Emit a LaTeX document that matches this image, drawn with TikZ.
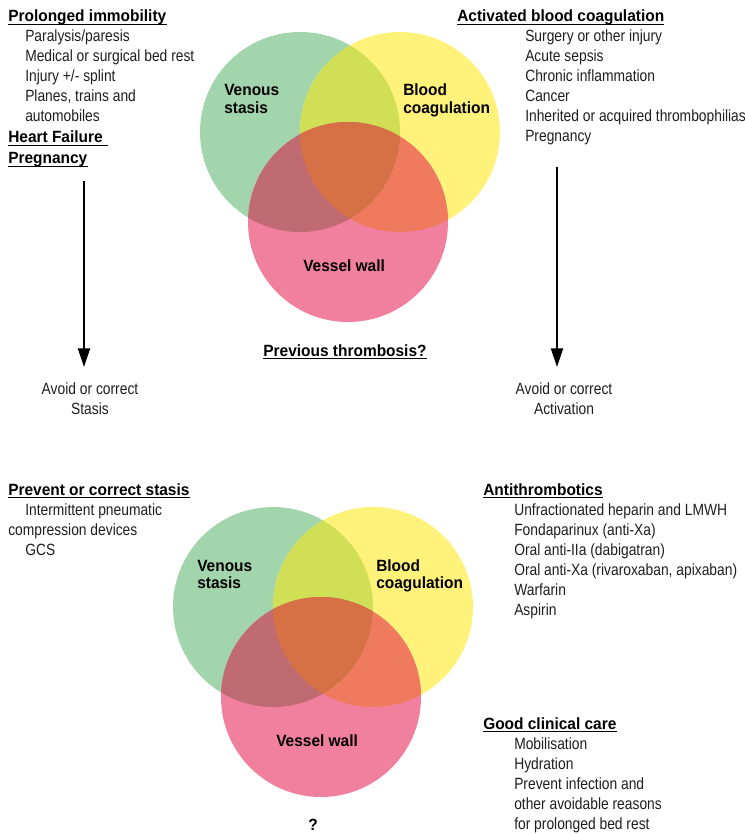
\documentclass[tikz,border=0pt]{standalone}
\usepackage{fontspec}
\setmainfont{Liberation Sans}[UprightFeatures={FakeStretch=0.85},BoldFeatures={FakeStretch=0.95}]
\usetikzlibrary{arrows.meta}
\definecolor{venGreen}{RGB}{163,213,172}
\definecolor{venYellow}{RGB}{255,242,122}
\definecolor{venPink}{RGB}{240,128,158}
\definecolor{gyMix}{RGB}{208,223,86}
\definecolor{gpMix}{RGB}{192,106,114}
\definecolor{ypMix}{RGB}{240,122,94}
\definecolor{allMix}{RGB}{214,112,69}
\definecolor{bodyText}{RGB}{30,30,30}

\tikzset{
  txt/.style={inner sep=0pt, anchor=base west, text=bodyText, font=\fontsize{12.2}{14}\selectfont},
  head/.style={inner sep=0pt, anchor=base west, font=\fontsize{12.2}{14}\selectfont\bfseries},
  uline/.style={line width=1.1pt},
  arr/.style={line width=1.6pt, -{Triangle[length=14pt,width=9pt]}}
}

\begin{document}
\begin{tikzpicture}[x=0.75pt,y=-0.75pt]
  \useasboundingbox (0,0) rectangle (744,834);

  % the two venn diagrams
  \foreach \dx/\dy/\p in {0/0/t,-27/475/b}
  {
    \begin{scope}[shift={(\dx,\dy)}]
      \coordinate (\p G) at (300,132);
      \coordinate (\p Y) at (400,132);
      \coordinate (\p P) at (348,222);
      \fill[venGreen] (\p G) circle [radius=75pt];
      \fill[venYellow] (\p Y) circle [radius=75pt];
      \fill[venPink] (\p P) circle [radius=75pt];
      \begin{scope}
        \clip (\p Y) circle [radius=75pt];
        \fill[ypMix] (\p P) circle [radius=75pt];
      \end{scope}
      \begin{scope}
        \clip (\p G) circle [radius=75pt];
        \fill[gyMix] (\p Y) circle [radius=75pt];
        \fill[gpMix] (\p P) circle [radius=75pt];
        \clip (\p Y) circle [radius=75pt];
        \fill[allMix] (\p P) circle [radius=75pt];
      \end{scope}
      \node[head] (\p ven1) at (224,96) {Venous};
      \node[head] (\p ven2) at (224,113.5) {stasis};
      \node[head] (\p blo1) at (403,96) {Blood};
      \node[head] (\p blo2) at (403,113.5) {coagulation};
      \node[head] (\p ves) at (303,271.5) {Vessel wall};
    \end{scope}
  }

  % risk factors
  \node[head] (immob) at (8,22) {Prolonged immobility};
  \foreach \t [count=\i] in {Paralysis/paresis, Medical or surgical bed rest, Injury +/- splint, {Planes, trains and}, automobiles}
    \node[txt] (immob\i) at (25,{22+20*\i}) {\t};
  \node[head] (heart) at (8,143) {Heart Failure\kern4pt};
  \node[head] (preg) at (8,164) {Pregnancy};

  \node[head] (activ) at (457,22) {Activated blood coagulation};
  \foreach \t [count=\i] in {Surgery or other injury, Acute sepsis, Chronic inflammation, Cancer, Inherited or acquired thrombophilias, Pregnancy}
    \node[txt] (activ\i) at (525,{22+20*\i}) {\t};

  % arrows
  \coordinate (lTop) at (84,181);
  \coordinate (lTip) at (84,367);
  \coordinate (rTop) at (557,167);
  \coordinate (rTip) at (557,367);
  \draw[arr] (lTop) -- (lTip);
  \draw[arr] (rTop) -- (rTip);

  \node[head, anchor=base] (prev) at (345,356) {Previous thrombosis?};
  \node[txt, anchor=base] (avoidL1) at (90,394) {Avoid or correct};
  \node[txt, anchor=base] (avoidL2) at (90,414) {Stasis};
  \node[txt, anchor=base] (avoidR1) at (564,394) {Avoid or correct};
  \node[txt, anchor=base] (avoidR2) at (564,414) {Activation};

  % prevention
  \node[head] (prevent) at (8,495) {Prevent or correct stasis};
  \node[txt] (prevent1) at (25,515) {Intermittent pneumatic};
  \node[txt] (prevent2) at (8,535) {compression devices};
  \node[txt] (prevent3) at (25,555) {GCS};

  \node[head] (anti) at (483,495) {Antithrombotics};
  \foreach \t [count=\i] in {Unfractionated heparin and LMWH, Fondaparinux (anti-Xa), Oral anti-IIa (dabigatran), {Oral anti-Xa (rivaroxaban, apixaban)}, Warfarin, Aspirin}
    \node[txt] (anti\i) at (514,{495+20*\i}) {\t};

  \node[head] (good) at (483,729) {Good clinical care};
  \foreach \t [count=\i] in {Mobilisation, Hydration, Prevent infection and, other avoidable reasons, for prolonged bed rest}
    \node[txt] (good\i) at (514,{729+20*\i}) {\t};

  \node[head, anchor=base] (unknown) at (313,830) {?};

  % underline the headings
  \foreach \n in {immob,heart,preg,activ,prev,prevent,anti,good}
    \draw[uline] ([yshift=-1.8pt]\n.base west) -- ([yshift=-1.8pt]\n.base east);
\end{tikzpicture}
\end{document}
